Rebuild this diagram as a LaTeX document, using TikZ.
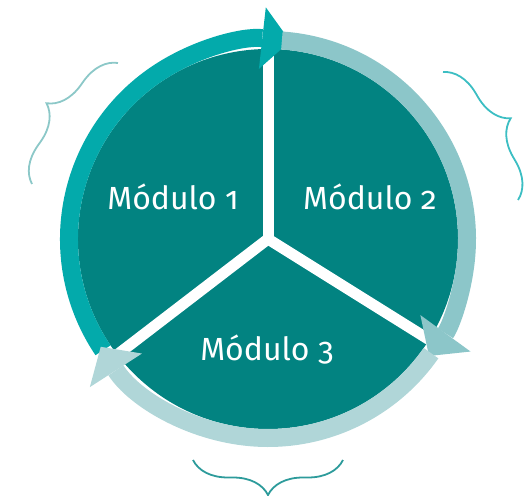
\documentclass[tikz,border=0pt]{standalone}
\usepackage{fontspec}
\setsansfont{Fira Sans}[Numbers=OldStyle]
\usetikzlibrary{arrows.meta,decorations.pathreplacing}

\definecolor{modfill}{RGB}{2,131,129}
\definecolor{arcone}{RGB}{3,170,171}
\definecolor{arctwo}{RGB}{140,198,201}
\definecolor{arcthree}{RGB}{176,214,216}
\definecolor{braceone}{RGB}{140,200,200}
\definecolor{bracetwo}{RGB}{60,190,195}
\definecolor{bracethree}{RGB}{45,155,155}

\begin{document}
\begin{tikzpicture}[
  x=1pt, y=1pt,
  font=\sffamily\fontsize{32}{38}\selectfont,
  ring/.style={line width=18pt, -{Triangle[length=28pt, width=62pt, line width=0pt]}},
  divider/.style={white, line width=11pt},
  lbl/.style={text=white, anchor=base, inner sep=0pt},
  brc/.style={decorate, decoration={brace, amplitude=35pt}, line width=1.8pt},
]
\clip (-268,-256) rectangle (256,239);
\coordinate (c) at (0,0);

\fill[modfill] (c) circle[radius=190];
\draw[divider] (c) -- (90:190);
\draw[divider] (c) -- (217.5:190);
\draw[divider] (c) -- (-32:190);

\draw[ring, arcone] (214:199) arc[start angle=214, end angle=83.6, radius=199];
\draw[ring, arctwo] (86:199) arc[start angle=86, end angle=-36, radius=199];
\draw[ring, arcthree] (-35:199) arc[start angle=-35, end angle=-147.2, radius=199];

\node[lbl] (m1) at (-95,29) {Módulo 1};
\node[lbl] (m2) at (102,29) {Módulo 2};
\node[lbl] (m3) at (-1,-121) {Módulo 3};

\draw[brc, braceone] (-236,55) -- (-150,176);
\draw[brc, bracetwo] (175,167) -- (250,39);
\draw[brc, bracethree] (75,-221) -- (-75,-221);
\end{tikzpicture}
\end{document}
